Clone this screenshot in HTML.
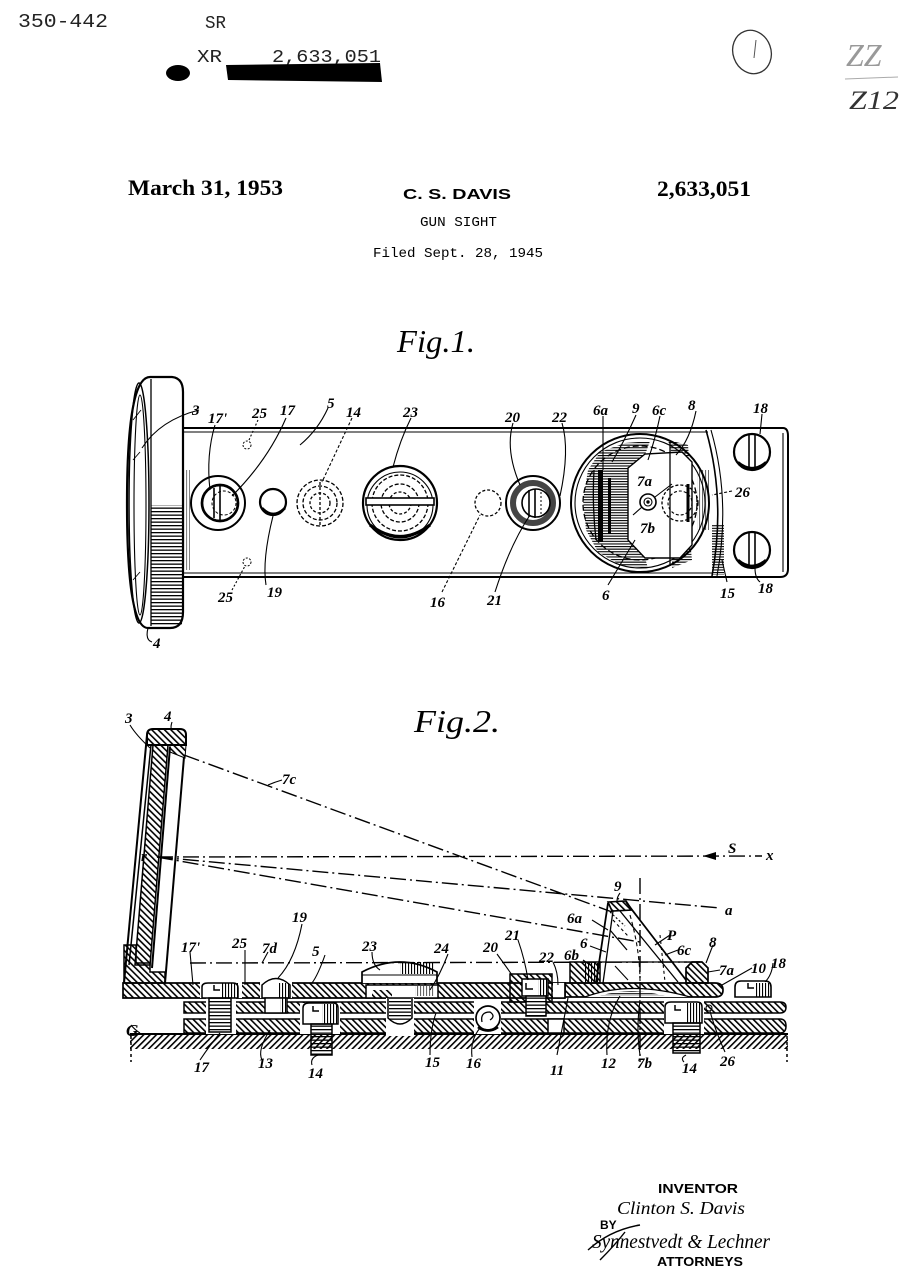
<!DOCTYPE html>
<html><head><meta charset="utf-8"><style>
html,body{margin:0;padding:0;background:#fff;}
svg{display:block;}
.lb{font-family:"Liberation Serif",serif;font-style:italic;font-weight:bold;font-size:15px;fill:#000;}
.ln{fill:none;stroke:#000;stroke-width:1.1;}
</style></head><body>
<svg width="921" height="1280" viewBox="0 0 921 1280" xmlns="http://www.w3.org/2000/svg">
<defs>
<pattern id="hb" patternUnits="userSpaceOnUse" width="4.5" height="4.5" patternTransform="rotate(-45)"><rect width="1.6" height="4.5" fill="#000"/></pattern>
<pattern id="hf" patternUnits="userSpaceOnUse" width="4.5" height="4.5" patternTransform="rotate(45)"><rect width="1.6" height="4.5" fill="#000"/></pattern>
<pattern id="hh" patternUnits="userSpaceOnUse" width="4" height="2.6"><rect width="4" height="1.1" fill="#000"/></pattern>
<pattern id="hv" patternUnits="userSpaceOnUse" width="3" height="4"><rect width="1.1" height="4" fill="#000"/></pattern>
<pattern id="th" patternUnits="userSpaceOnUse" width="4" height="3.5"><rect width="4" height="1.3" fill="#000"/></pattern>
</defs>
<rect width="921" height="1280" fill="#fff"/>

<!-- Header -->
<g font-family="Liberation Mono, monospace" fill="#222">
<text x="18" y="27" font-size="19" textLength="90" lengthAdjust="spacingAndGlyphs">350-442</text>
<text x="205" y="28" font-size="18" textLength="21" lengthAdjust="spacingAndGlyphs">SR</text>
<text x="197" y="62" font-size="18" textLength="25" lengthAdjust="spacingAndGlyphs">XR</text>
<text x="272" y="62" font-size="18" textLength="109" lengthAdjust="spacingAndGlyphs">2,633,051</text>
</g>
<ellipse cx="178" cy="73" rx="12" ry="8" fill="#000"/>
<path d="M226,65 L380,63 L382,82 L228,80 Z" fill="#000"/>
<ellipse cx="752" cy="52" rx="19" ry="22" transform="rotate(-20 752 52)" fill="none" stroke="#333" stroke-width="1.3"/>
<path d="M756,40 L754,58" stroke="#555" stroke-width="1"/>
<text x="846" y="66" font-family="Liberation Serif,serif" font-style="italic" font-size="32" fill="#999">ZZ</text>
<path d="M845,79 L898,77" stroke="#aaa" stroke-width="1"/>
<text x="849" y="109" font-family="Liberation Serif,serif" font-style="italic" font-size="26" fill="#333" textLength="50" lengthAdjust="spacingAndGlyphs">Z12</text>

<!-- Title block -->
<text x="128" y="195" font-family="Liberation Serif,serif" font-weight="bold" font-size="22" textLength="155" lengthAdjust="spacingAndGlyphs">March 31, 1953</text>
<text x="403" y="199" font-family="Liberation Sans,sans-serif" font-weight="bold" font-size="15" textLength="108" lengthAdjust="spacingAndGlyphs">C. S. DAVIS</text>
<text x="657" y="196" font-family="Liberation Serif,serif" font-weight="bold" font-size="22" textLength="94" lengthAdjust="spacingAndGlyphs">2,633,051</text>
<text x="420" y="226" font-family="Liberation Mono,monospace" font-size="14" textLength="77" lengthAdjust="spacingAndGlyphs">GUN SIGHT</text>
<text x="373" y="257" font-family="Liberation Mono,monospace" font-size="14" textLength="170" lengthAdjust="spacingAndGlyphs">Filed Sept. 28, 1945</text>

<text x="397" y="352" font-family="Liberation Serif,serif" font-style="italic" font-size="32" textLength="78" lengthAdjust="spacingAndGlyphs">Fig.1.</text>

<!-- ============ FIG 1 ============ -->
<g stroke="#000" fill="none">
<!-- lens housing -->
<path d="M150,377 L172,377 Q183,378 183,392 L183,612 Q183,628 170,628 L148,628 Q127,628 127,503 Q127,377 150,377 Z" stroke-width="2.2"/>
<ellipse cx="139" cy="503" rx="10" ry="120" stroke-width="1.5"/>
<ellipse cx="140" cy="505" rx="6" ry="110" stroke-width="1.1"/>
<line x1="151" y1="379" x2="151" y2="626" stroke-width="1.3"/>
<rect x="151" y="505" width="31" height="120" fill="url(#th)" stroke="none"/>
<line x1="133" y1="420" x2="141" y2="410" stroke-width="0.9"/>
<line x1="133" y1="460" x2="140" y2="452" stroke-width="0.9"/>
<line x1="133" y1="580" x2="140" y2="572" stroke-width="0.9"/>
<rect x="184" y="470" width="6" height="100" fill="url(#hv)" stroke="none" opacity="0.5"/>

<!-- plate -->
<line x1="183" y1="428" x2="783" y2="428" stroke-width="2"/>
<line x1="183" y1="432" x2="708" y2="432" stroke-width="1.1"/>
<line x1="183" y1="573" x2="712" y2="573" stroke-width="1.1"/>
<line x1="183" y1="577" x2="780" y2="577" stroke-width="2"/>
<path d="M783,428 Q788,428 788,436 L788,569 Q788,577 780,577" stroke-width="2"/>
<path d="M783,433 L783,572" stroke-width="1.1"/>
<path d="M706,430 Q726,500 712,576" stroke-width="1.6"/>
<path d="M711,430 Q731,500 717,576" stroke-width="1.1"/>
<rect x="712" y="525" width="12" height="50" fill="url(#hh)" stroke="none"/>

<!-- 25 holes -->
<circle cx="247" cy="445" r="4" stroke-dasharray="2 1.5" stroke-width="1"/>
<circle cx="247" cy="562" r="4" stroke-dasharray="2 1.5" stroke-width="1"/>
<!-- 17' -->
<circle cx="218" cy="503" r="27" stroke-width="2"/>
<circle cx="220" cy="503" r="18" stroke-width="2.7"/>
<circle cx="224" cy="503" r="12" stroke-dasharray="3 2" stroke-width="1"/>
<line x1="214" y1="488" x2="214" y2="518" stroke-width="1.6"/>
<line x1="220" y1="486" x2="220" y2="520" stroke-width="1.6"/>
<!-- 19 -->
<circle cx="273" cy="502" r="13" stroke-width="2.2"/>
<path d="M262,508 Q273,520 285,508" stroke-width="2.7"/>
<!-- 14 -->
<circle cx="320" cy="503" r="23" stroke-dasharray="4 2" stroke-width="1.3"/>
<circle cx="320" cy="503" r="17" stroke-dasharray="4 2" stroke-width="1.3"/>
<circle cx="320" cy="503" r="10" stroke-dasharray="3 2" stroke-width="1.3"/>
<line x1="320" y1="482" x2="320" y2="525" stroke-dasharray="3 2" stroke-width="1.3"/>
<!-- 23 -->
<circle cx="400" cy="503" r="37" stroke-width="2.2"/>
<circle cx="400" cy="505" r="33" stroke-width="1.1"/>
<circle cx="400" cy="503" r="28" stroke-dasharray="4 2" stroke-width="1.3"/>
<circle cx="400" cy="503" r="19" stroke-dasharray="4 2" stroke-width="1.3"/>
<circle cx="400" cy="503" r="11" stroke-dasharray="3 2" stroke-width="1.3"/>
<rect x="366" y="498" width="68" height="7" stroke-width="1.6" fill="#fff"/>
<path d="M370,525 Q400,548 430,525" stroke-width="3.2"/>
<!-- 16 -->
<circle cx="488" cy="503" r="13" stroke-dasharray="3 2" stroke-width="1.3"/>
<!-- 20/21 -->
<circle cx="533" cy="503" r="27" stroke-width="2"/>
<circle cx="533" cy="503" r="20" stroke-width="6" stroke="#444"/>
<circle cx="536" cy="503" r="14" stroke-width="1.6" fill="#fff"/>
<line x1="529" y1="490" x2="529" y2="517" stroke-width="1.6"/>
<line x1="535" y1="489" x2="535" y2="518" stroke-width="1.6"/>
<line x1="541" y1="492" x2="541" y2="515" stroke-dasharray="2 2" stroke-width="1"/>
<!-- 6 big circle -->
<circle cx="640" cy="503" r="69" stroke-width="2"/>
<circle cx="640" cy="503" r="65" stroke-width="1.1"/>
<circle cx="640" cy="503" r="57" stroke-dasharray="6 3" stroke-width="1.3"/>
<path d="M588,470 L600,452 L625,443 L650,441 L645,455 L628,468 L628,540 L645,558 L648,568 L622,566 L598,552 L586,530 L583,500 Z" fill="url(#hh)" stroke="none"/>
<path d="M668,440 L688,445 L690,468 L672,455 Z" fill="url(#hh)" stroke="none"/>
<path d="M672,552 L690,540 L692,560 L672,568 Z" fill="url(#hh)" stroke="none"/>
<path d="M628,468 L645,454 L682,452 L692,462 L692,545 L680,558 L645,558 L628,540 Z" fill="#fff" stroke-width="1.4"/>
<rect x="598" y="470" width="5" height="72" fill="#000" stroke="none"/>
<rect x="608" y="478" width="3" height="56" fill="#000" stroke="none"/>
<path d="M594,470 Q592,505 596,540" stroke-width="1.3"/>
<line x1="670" y1="442" x2="670" y2="566" stroke-width="1.3"/>
<line x1="688" y1="484" x2="688" y2="522" stroke-width="3"/>
<circle cx="680" cy="503" r="18" stroke-dasharray="3 2" stroke-width="1.3"/>
<circle cx="680" cy="503" r="12" stroke-dasharray="3 2" stroke-width="1.1"/>
<circle cx="648" cy="502" r="8" stroke-width="1.6" fill="#fff"/>
<circle cx="648" cy="502" r="4" stroke-width="1.1"/>
<circle cx="648" cy="502" r="1.2" fill="#000"/>
<line x1="633" y1="515" x2="642" y2="507" stroke-width="1.1"/>
<line x1="655" y1="497" x2="672" y2="484" stroke-width="1.1"/>
<rect x="697" y="470" width="12" height="60" fill="url(#hv)" stroke="none" opacity="0.6"/>
<!-- 18 screws -->
<circle cx="752" cy="452" r="18" stroke-width="2.2"/>
<line x1="749" y1="435" x2="749" y2="469" stroke-width="1.6"/>
<line x1="755" y1="435" x2="755" y2="469" stroke-width="1.6"/>
<path d="M738,462 Q752,474 766,462" stroke-width="2.2"/>
<circle cx="752" cy="550" r="18" stroke-width="2.2"/>
<line x1="749" y1="533" x2="749" y2="567" stroke-width="1.6"/>
<line x1="755" y1="533" x2="755" y2="567" stroke-width="1.6"/>
<path d="M738,560 Q752,572 766,560" stroke-width="2.7"/>
</g>
<!-- fig1 leaders -->
<g class="ln">
<path d="M199,410 Q160,420 142,448"/>
<path d="M215,425 Q206,455 210,490"/>
<path d="M258,420 L249,440" stroke-dasharray="2 2"/>
<path d="M286,418 Q268,460 232,496"/>
<path d="M328,408 Q318,430 300,445"/>
<path d="M352,418 L322,482" stroke-dasharray="3 2"/>
<path d="M411,418 Q400,440 393,467"/>
<path d="M232,590 L245,566" stroke-dasharray="2 2"/>
<path d="M273,516 Q262,560 266,585"/>
<path d="M442,592 L480,515" stroke-dasharray="3 2"/>
<path d="M495,592 Q510,545 530,515"/>
<path d="M513,423 Q505,450 520,485"/>
<path d="M562,423 Q570,450 560,496"/>
<path d="M603,416 L603,470"/>
<path d="M636,415 Q625,440 612,462"/>
<path d="M660,416 Q655,440 648,460"/>
<path d="M696,411 Q690,440 676,455"/>
<path d="M762,414 L760,434"/>
<path d="M608,585 L635,540"/>
<path d="M727,582 L722,560"/>
<path d="M760,582 Q755,578 755,568"/>
<path d="M148,628 Q145,640 152,642"/>
<path d="M732,491 L712,495" stroke-dasharray="3 2"/>
</g>
<g class="lb">
<text x="192" y="415">3</text>
<text x="208" y="423">17'</text>
<text x="252" y="418">25</text>
<text x="280" y="415">17</text>
<text x="327" y="408">5</text>
<text x="346" y="417">14</text>
<text x="403" y="417">23</text>
<text x="505" y="422">20</text>
<text x="552" y="422">22</text>
<text x="593" y="415">6a</text>
<text x="632" y="413">9</text>
<text x="652" y="415">6c</text>
<text x="688" y="410">8</text>
<text x="753" y="413">18</text>
<text x="637" y="486">7a</text>
<text x="640" y="533">7b</text>
<text x="735" y="497">26</text>
<text x="218" y="602">25</text>
<text x="267" y="597">19</text>
<text x="430" y="607">16</text>
<text x="487" y="605">21</text>
<text x="602" y="600">6</text>
<text x="720" y="598">15</text>
<text x="758" y="593">18</text>
<text x="153" y="648">4</text>
</g>

<text x="414" y="732" font-family="Liberation Serif,serif" font-style="italic" font-size="32" textLength="86" lengthAdjust="spacingAndGlyphs">Fig.2.</text>

<!-- ============ FIG 2 ============ -->
<g stroke="#000" stroke-width="1.5">
<!-- ground -->
<rect x="130" y="1034" width="658" height="15" fill="url(#hf)" stroke="none"/>
<line x1="130" y1="1034" x2="788" y2="1034" stroke-width="2"/>
<line x1="131" y1="1036" x2="131" y2="1062" stroke-dasharray="3 3"/>
<line x1="787" y1="1036" x2="787" y2="1062" stroke-dasharray="3 3"/>
<!-- plate 13 -->
<path d="M184,1019 L780,1019 Q786,1019 786,1026 Q786,1033 780,1033 L184,1033 Z" fill="url(#hb)"/>
<!-- plate 15 -->
<path d="M184,1002 L780,1002 Q786,1002 786,1007 Q786,1013 780,1013 L184,1013 Z" fill="url(#hb)"/>
<!-- plate 5 -->
<path d="M123,983 L565,983 L565,998 L123,998 Z" fill="url(#hb)" stroke-width="1.7"/>
<!-- housing bottom L -->
<path d="M124,945 L136,945 L136,963 L150,963 L150,972 L165,972 L165,983 L124,983 Z" fill="url(#hb)"/>
<!-- housing frame -->
<path d="M147,745 L147,735 Q147,729 153,729 L180,729 Q186,729 186,735 L186,745 Z" fill="url(#hb)" stroke-width="2"/>
<line x1="147" y1="735" x2="124" y2="983" stroke-width="2"/>
<line x1="151" y1="745" x2="129" y2="965"/>
<path d="M153,745 L168,745 L150,965 L135,965 Z" fill="url(#hb)"/>
<line x1="170" y1="747" x2="152" y2="968" stroke-width="2"/>
<path d="M170,745 L186,745 L185,758 L170,752 Z" fill="url(#hb)" stroke-width="1"/>
<line x1="184" y1="757" x2="165" y2="983" stroke-width="2"/>
</g>
<!-- white cutouts / screws -->
<g stroke="#000" stroke-width="1.5">
<!-- 17 screw -->
<rect x="200" y="982" width="42" height="16" fill="#fff" stroke="none"/>
<rect x="206" y="998" width="30" height="36" fill="#fff" stroke="none"/>
<path d="M202,998 L202,987 Q202,983 208,983 L233,983 Q238,983 238,988 L238,998 Z" fill="#fff"/>
<rect x="222" y="983" width="16" height="15" fill="url(#hv)" stroke="none"/>
<path d="M214,985 L214,990 L220,990" fill="none"/>
<rect x="209" y="998" width="22" height="34" fill="url(#th)"/>
<!-- 19 -->
<rect x="260" y="978" width="32" height="20" fill="#fff" stroke="none"/>
<path d="M262,998 L262,985 Q276,972 290,985 L290,998 Z" fill="#fff"/>
<rect x="278" y="983" width="12" height="15" fill="url(#hv)" stroke="none"/>
<rect x="265" y="998" width="22" height="15" fill="#fff"/>
<rect x="280" y="998" width="7" height="15" fill="url(#hv)" stroke="none"/>
<!-- 14 left -->
<rect x="300" y="1003" width="40" height="31" fill="#fff" stroke="none"/>
<path d="M303,1024 L303,1008 Q303,1003 309,1003 L333,1003 Q338,1003 338,1008 L338,1024 Z" fill="#fff"/>
<rect x="322" y="1004" width="15" height="20" fill="url(#hv)" stroke="none"/>
<path d="M313,1006 L313,1011 L319,1011" fill="none"/>
<rect x="311" y="1024" width="21" height="31" fill="url(#th)"/>
<!-- 23 -->
<path d="M362,983 L362,972 Q400,952 437,972 L437,983" fill="#fff" stroke-width="1.7"/>
<line x1="362" y1="975" x2="437" y2="975" stroke-width="1.1"/>
<rect x="400" y="962" width="34" height="12" fill="url(#hv)" stroke="none"/>
<rect x="366" y="985" width="72" height="13" fill="#fff"/>
<rect x="372" y="990" width="20" height="8" fill="url(#hb)" stroke="none"/>
<rect x="415" y="986" width="20" height="10" fill="url(#hv)" stroke="none" opacity="0.6"/>
<rect x="386" y="998" width="28" height="38" fill="#fff" stroke="none"/>
<path d="M388,998 L388,1018 Q400,1030 412,1018 L412,998" fill="#fff"/>
<rect x="389" y="998" width="22" height="22" fill="url(#th)" stroke="none"/>
<!-- ball 16 -->
<rect x="474" y="1001" width="27" height="33" fill="#fff" stroke="none"/>
<circle cx="488" cy="1018" r="12" fill="#fff" stroke-width="1.7"/>
<path d="M482,1022 Q480,1012 490,1012 Q496,1016 490,1020" fill="none" stroke-width="1.3"/>
<path d="M478,1027 Q488,1034 498,1027" fill="none" stroke-width="2.7"/>
<!-- 20/21 -->
<rect x="510" y="974" width="42" height="28" fill="url(#hb)"/>
<rect x="522" y="979" width="26" height="17" fill="#fff"/>
<rect x="538" y="979" width="10" height="17" fill="url(#hv)" stroke="none"/>
<path d="M526,983 L526,989 L533,989" fill="none"/>
<rect x="526" y="996" width="20" height="20" fill="#fff"/>
<rect x="526" y="996" width="20" height="20" fill="url(#th)" stroke="none"/>
<rect x="548" y="1019" width="16" height="14" fill="#fff"/>
<!-- 22 gap -->
<rect x="553" y="983" width="12" height="15" fill="#fff" stroke="none"/>
<line x1="553" y1="998" x2="565" y2="998"/>
<!-- 10 plate -->
<path d="M565,983 L715,983 Q723,983 723,990 Q723,997 715,997 L565,997 Z" fill="url(#hb)" stroke-width="1.7"/>
<path d="M585,997 Q630,980 690,997" fill="#fff" stroke-width="1.3"/>
<path d="M600,996 Q630,986 665,996" fill="url(#hh)" stroke="none"/>
<!-- 6b -->
<rect x="570" y="962" width="30" height="21" fill="url(#hb)"/>
<rect x="584" y="963" width="15" height="19" fill="url(#hv)" stroke="none"/>
<!-- 8 -->
<path d="M686,968 L692,962 L702,962 L708,968 L708,983 L686,983 Z" fill="url(#hb)" stroke-width="1.7"/>
<!-- prism 6/9 -->
<path d="M608,902 L626,901 L632,910 L612,911 Z" fill="url(#hb)" stroke-width="1.6"/>
<line x1="608" y1="903" x2="596" y2="983" stroke-width="1.8"/>
<line x1="613" y1="911" x2="603" y2="983" stroke-width="1.3"/>
<line x1="626" y1="902" x2="686" y2="980" stroke-width="1.8"/>
<line x1="620" y1="911" x2="678" y2="982" stroke-width="1.3"/>
<line x1="600" y1="962" x2="687" y2="962" stroke-width="1.3"/>
<path d="M630,915 Q640,950 640,982" fill="none" stroke-dasharray="4 3" stroke-width="1.1"/>
<path d="M613,920 L628,936" fill="none" stroke-dasharray="3 3" stroke-width="1.1"/>
<path d="M610,930 L627,950" fill="none" stroke-width="1.3"/>
<path d="M615,966 L628,980" fill="none" stroke-width="1.1"/>
<path d="M610,912 L625,926" fill="none" stroke-dasharray="2 2" stroke-width="1.1"/>
<line x1="660" y1="935" x2="665" y2="982" stroke-dasharray="3 3" stroke-width="1.1"/>
<!-- 14 right -->
<rect x="664" y="1001" width="40" height="33" fill="#fff" stroke="none"/>
<path d="M665,1023 L665,1007 Q665,1002 671,1002 L697,1002 Q702,1002 702,1007 L702,1023 Z" fill="#fff"/>
<rect x="686" y="1003" width="15" height="20" fill="url(#hv)" stroke="none"/>
<path d="M675,1005 L675,1010 L681,1010" fill="none"/>
<rect x="673" y="1023" width="27" height="30" fill="url(#th)"/>
<!-- 26 small -->
<circle cx="709" cy="1008" r="3" fill="none" stroke-width="1.1"/>
<!-- 18 right -->
<path d="M735,997 L735,987 Q735,981 741,981 L765,981 Q771,981 771,987 L771,997 Z" fill="#fff" stroke-width="1.6"/>
<rect x="755" y="983" width="15" height="14" fill="url(#hv)" stroke="none"/>
<path d="M748,983 L748,988 L754,988" fill="none"/>
</g>
<!-- dash-dot optical lines -->
<g fill="none" stroke="#000" stroke-width="1.4" stroke-dasharray="16 4 2 4">
<line x1="157" y1="857" x2="762" y2="856"/>
<line x1="157" y1="857" x2="720" y2="908"/>
<line x1="157" y1="857" x2="640" y2="942"/>
<line x1="184" y1="755" x2="612" y2="912"/>
<line x1="190" y1="963" x2="700" y2="962"/>
<line x1="640" y1="878" x2="640" y2="1062"/>
</g>
<path d="M703,856 L716,852 L716,860 Z" fill="#000"/>
<!-- fig2 leaders -->
<g class="ln">
<path d="M130,725 Q136,735 150,748"/>
<path d="M172,722 Q170,728 172,730"/>
<path d="M282,780 Q275,782 268,785"/>
<path d="M190,952 L193,985"/>
<path d="M245,950 L245,985"/>
<path d="M268,952 L262,963"/>
<path d="M302,924 Q295,960 278,978"/>
<path d="M325,955 Q318,975 312,983"/>
<path d="M372,952 Q372,965 380,970"/>
<path d="M448,954 Q440,975 430,990"/>
<path d="M497,954 Q505,965 512,975"/>
<path d="M518,940 Q525,960 528,980"/>
<path d="M553,962 Q558,972 558,985"/>
<path d="M583,960 L590,965"/>
<path d="M620,893 Q617,897 617,901"/>
<path d="M592,920 L608,930"/>
<path d="M590,946 L606,952"/>
<path d="M670,935 L655,945"/>
<path d="M678,950 L665,955"/>
<path d="M713,945 L706,963"/>
<path d="M720,970 L708,972"/>
<path d="M752,968 L722,985"/>
<path d="M773,963 Q772,975 765,982"/>
<path d="M131,1025 Q135,1030 140,1033"/>
<path d="M200,1060 Q210,1045 220,1033"/>
<path d="M262,1060 Q257,1050 270,1030"/>
<path d="M312,1065 Q310,1058 318,1055"/>
<path d="M430,1055 Q430,1030 436,1013"/>
<path d="M472,1057 Q470,1040 480,1028"/>
<path d="M557,1055 L568,998"/>
<path d="M607,1055 Q605,1020 620,996"/>
<path d="M640,1055 Q636,1030 640,1000"/>
<path d="M684,1062 Q680,1058 686,1055"/>
<path d="M725,1052 Q715,1030 710,1011"/>
</g>
<g class="lb">
<text x="125" y="723">3</text>
<text x="164" y="721">4</text>
<text x="282" y="784">7c</text>
<text x="141" y="861">r</text>
<text x="728" y="853">S</text>
<text x="766" y="860">x</text>
<text x="725" y="915">a</text>
<text x="614" y="891">9</text>
<text x="567" y="923">6a</text>
<text x="580" y="948">6</text>
<text x="667" y="940">P</text>
<text x="677" y="955">6c</text>
<text x="709" y="947">8</text>
<text x="505" y="940">21</text>
<text x="483" y="952">20</text>
<text x="539" y="962">22</text>
<text x="564" y="960">6b</text>
<text x="719" y="975">7a</text>
<text x="751" y="973">10</text>
<text x="771" y="968">18</text>
<text x="181" y="952">17'</text>
<text x="232" y="948">25</text>
<text x="262" y="953">7d</text>
<text x="292" y="922">19</text>
<text x="312" y="956">5</text>
<text x="362" y="951">23</text>
<text x="434" y="953">24</text>
<text x="126" y="1036" font-size="17">G</text>
<text x="194" y="1072">17</text>
<text x="258" y="1068">13</text>
<text x="308" y="1078">14</text>
<text x="425" y="1067">15</text>
<text x="466" y="1068">16</text>
<text x="550" y="1075">11</text>
<text x="601" y="1068">12</text>
<text x="637" y="1068">7b</text>
<text x="682" y="1073">14</text>
<text x="720" y="1066">26</text>
</g>

<!-- signature block -->
<text x="658" y="1193" font-family="Liberation Sans,sans-serif" font-weight="bold" font-size="13" textLength="80" lengthAdjust="spacingAndGlyphs">INVENTOR</text>
<text x="617" y="1214" font-family="Liberation Serif,serif" font-style="italic" font-size="18" textLength="128" lengthAdjust="spacingAndGlyphs">Clinton S. Davis</text>
<text x="600" y="1229" font-family="Liberation Sans,sans-serif" font-weight="bold" font-size="12">BY</text>
<text x="592" y="1248" font-family="Liberation Serif,serif" font-style="italic" font-size="20" textLength="178" lengthAdjust="spacingAndGlyphs">Synnestvedt &amp; Lechner</text>
<path d="M588,1250 Q610,1230 640,1225 M600,1260 Q615,1245 625,1232" fill="none" stroke="#000" stroke-width="1.4"/>
<text x="657" y="1266" font-family="Liberation Sans,sans-serif" font-weight="bold" font-size="13" textLength="86" lengthAdjust="spacingAndGlyphs">ATTORNEYS</text>
</svg>
</body></html>
